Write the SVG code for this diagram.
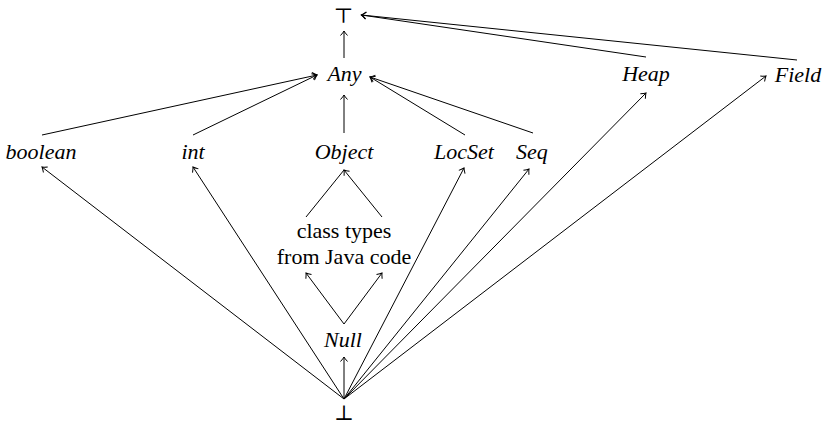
<svg xmlns="http://www.w3.org/2000/svg" width="824" height="426" viewBox="0 0 824 426">
<style>
text{font-family:'Liberation Serif','Times New Roman',serif;font-size:22px;fill:#000;text-anchor:middle}
.it{font-style:italic}
.sym{font-family:'DejaVu Sans','DejaVu Serif',sans-serif;font-weight:200;font-size:21px}
.e{stroke:#000;stroke-width:1;fill:none;marker-end:url(#ah)}
.p{stroke:#000;stroke-width:1;fill:none}
</style>
<defs>
<marker id="ah" viewBox="-6 -5 10 10" markerWidth="10" markerHeight="10" refX="0" refY="0" orient="auto" markerUnits="userSpaceOnUse">
<path d="M-4.5,-3.5 Q-1.5,-0.8 0,0 Q-1.5,0.8 -4.5,3.5" fill="none" stroke="#000" stroke-width="1"/>
</marker>
</defs>
<g id="connectors">
<line class="e" x1="344" y1="58" x2="344" y2="31"/>
<line class="e" x1="646" y1="57" x2="361.5" y2="15"/>
<line class="e" x1="797" y1="60" x2="361.5" y2="15"/>
<line class="e" x1="42" y1="135" x2="317" y2="75"/>
<line class="e" x1="193" y1="135" x2="317" y2="75"/>
<line class="e" x1="344" y1="133" x2="344" y2="95"/>
<line class="e" x1="465" y1="135" x2="370" y2="77"/>
<line class="e" x1="533" y1="133" x2="370" y2="77"/>
<line class="p" x1="306" y1="217" x2="344" y2="170"/>
<line class="e" x1="382" y1="217" x2="344" y2="170"/>
<line class="e" x1="344" y1="324" x2="306" y2="273"/>
<line class="e" x1="344" y1="324" x2="382" y2="273"/>
<line class="e" x1="344" y1="399" x2="344" y2="357"/>
<line class="e" x1="344" y1="399" x2="42" y2="167"/>
<line class="e" x1="344" y1="399" x2="193" y2="167"/>
<line class="e" x1="344" y1="399" x2="464" y2="168"/>
<line class="e" x1="344" y1="399" x2="529" y2="169"/>
<line class="e" x1="344" y1="399" x2="646" y2="93"/>
<line class="e" x1="344" y1="399" x2="766" y2="76"/>
</g>
<g id="top"><text class="sym" x="343.5" y="23">⊤</text></g>
<g id="any"><text class="it" x="344.5" y="81">Any</text></g>
<g id="heap"><text class="it" x="646" y="81">Heap</text></g>
<g id="field"><text class="it" x="798" y="82">Field</text></g>
<g id="boolean"><text class="it" x="41" y="159">boolean</text></g>
<g id="int"><text class="it" x="193" y="159">int</text></g>
<g id="object"><text class="it" x="344" y="159">Object</text></g>
<g id="locset"><text class="it" x="464" y="159">LocSet</text></g>
<g id="seq"><text class="it" x="532" y="159">Seq</text></g>
<g id="classtypes"><text x="344" y="238">class types</text><text x="344" y="264">from Java code</text></g>
<g id="null"><text class="it" x="343" y="347">Null</text></g>
<g id="bottom"><text class="sym" x="344" y="420">⊥</text></g>
</svg>
